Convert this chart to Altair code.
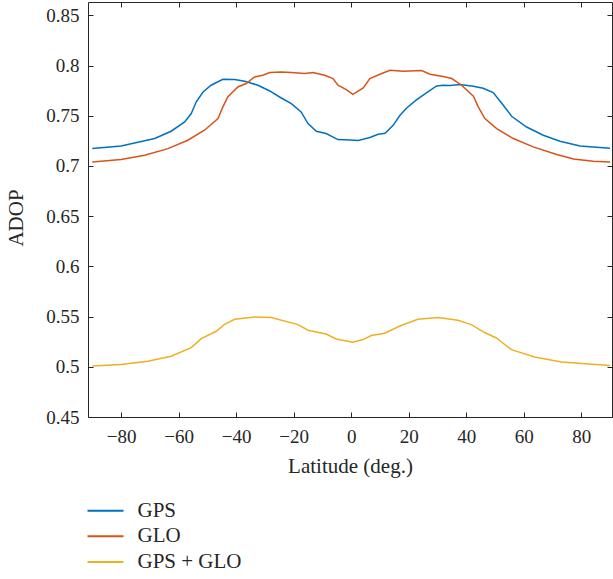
import altair as alt
import pandas as pd

series_names = ["GPS", "GLO", "GPS + GLO"]
series_colors = ["#0072BD", "#D95319", "#EDB120"]

gps_lat = [-90, -80, -68.3, -62.6, -57.9, -55.6, -53.9, -51.5, -48.7, -44.6, -40.5, -37, -32.4,
           -28.3, -24.3, -20.8, -17.4, -15, -12.1, -8.7, -4.6, -0.4, 2.5, 6.5, 9.4, 11.8, 14.6,
           17, 19.3, 22.8, 26.3, 29.7, 32, 34.4, 37.8, 42.5, 45.9, 49.4, 52.9, 55.8, 61, 66.8,
           72.6, 79.6, 90]
gps_val = [0.7173, 0.7199, 0.7273, 0.7346, 0.7438, 0.7522, 0.7637, 0.7737, 0.7804, 0.7864,
           0.7861, 0.7844, 0.7804, 0.7747, 0.7677, 0.7621, 0.7538, 0.7422, 0.7346, 0.7323,
           0.7263, 0.7259, 0.7253, 0.7283, 0.7316, 0.7326, 0.7405, 0.7505, 0.7578, 0.7661,
           0.7731, 0.7797, 0.7804, 0.7801, 0.7811, 0.7794, 0.7774, 0.7731, 0.7605, 0.7495,
           0.7388, 0.7306, 0.7246, 0.7199, 0.7176]

glo_lat = [-90, -80, -71.8, -63.7, -56.8, -51, -46.3, -44.6, -42.9, -39.4, -36.5, -33.6, -30.7,
           -28.3, -24.3, -20.8, -16.2, -13.3, -9.2, -6.3, -4.6, -1.7, 0.6, 4.2, 6.5, 10, 13.5,
           18.1, 24.5, 27.4, 32, 35, 38.4, 42.5, 44.2, 46.5, 50.6, 56.4, 63.3, 71.5, 77.3,
           84.2, 90]
glo_val = [0.7040, 0.7064, 0.7107, 0.7173, 0.7256, 0.7356, 0.7472, 0.7588, 0.7687, 0.7787,
           0.7821, 0.7886, 0.7904, 0.7930, 0.7937, 0.7930, 0.7920, 0.7930, 0.7904, 0.7871,
           0.7804, 0.7761, 0.7714, 0.7777, 0.7871, 0.7913, 0.7953, 0.7944, 0.7951, 0.7914,
           0.7891, 0.7871, 0.7804, 0.7695, 0.7588, 0.7472, 0.7373, 0.7273, 0.7190, 0.7114,
           0.7070, 0.7047, 0.7040]

both_lat = [-90, -80, -70.7, -62.6, -55.6, -52.1, -46.9, -44, -40.5, -33.6, -27.8, -18.5, -15,
            -8.7, -5.2, 0.6, 4.1, 7, 11.7, 16.9, 23.2, 30.2, 37.1, 41.8, 46.4, 50.5, 55.7,
            63.8, 73.1, 90]
both_val = [0.5008, 0.5022, 0.5055, 0.5105, 0.5191, 0.5281, 0.5354, 0.5423, 0.5473, 0.5496,
            0.5490, 0.5420, 0.5364, 0.5327, 0.5277, 0.5244, 0.5271, 0.5311, 0.5334, 0.5406,
            0.5473, 0.5490, 0.5463, 0.5420, 0.5341, 0.5287, 0.5171, 0.5098, 0.5048, 0.5012]

x_ticks = [-80, -60, -40, -20, 0, 20, 40, 60, 80]
y_ticks = [0.45, 0.5, 0.55, 0.6, 0.65, 0.7, 0.75, 0.8, 0.85]

rows = []
for name, lats, vals in [("GPS", gps_lat, gps_val), ("GLO", glo_lat, glo_val),
                         ("GPS + GLO", both_lat, both_val)]:
    for a, v in zip(lats, vals):
        rows.append({"lat": a, "adop": v, "series": name})
df = pd.DataFrame(rows)

W, H = 524, 415
FONT = "Liberation Serif"
INK = "#262626"

xscale = alt.Scale(domain=[-91.5, 90.7], nice=False, zero=False)
yscale = alt.Scale(domain=[0.45, 0.8633], nice=False, zero=False)

base = alt.Chart(df)

lines = base.mark_line(strokeWidth=1.5, clip=True).encode(
    x=alt.X("lat:Q", scale=xscale, axis=alt.Axis(
        orient="bottom", values=x_ticks, format="d", title="Latitude (deg.)",
        ticks=False, tickSize=0, labelPadding=25, labelBaseline="alphabetic",
        labelFont=FONT, labelFontSize=19, labelColor=INK,
        titleFont=FONT, titleFontSize=21, titleFontWeight="normal", titleColor=INK,
        titleY=55, titleBaseline="alphabetic",
        domain=True, domainColor=INK, domainWidth=1, grid=False)),
    y=alt.Y("adop:Q", scale=yscale, axis=alt.Axis(
        orient="left", values=y_ticks, format="~r", title="ADOP",
        ticks=False, tickSize=0, labelPadding=9, labelBaseline="middle",
        labelFont=FONT, labelFontSize=19, labelColor=INK,
        titleFont=FONT, titleFontSize=21, titleFontWeight="normal", titleColor=INK,
        titleX=-71.5, titleY=215.5, titleBaseline="middle",
        domain=True, domainColor=INK, domainWidth=1, grid=False)),
    color=alt.Color("series:N", sort=series_names,
                    scale=alt.Scale(domain=series_names, range=series_colors),
                    legend=alt.Legend(
                        title=None, orient="none", legendX=6.5, legendY=497.7,
                        direction="vertical", padding=0,
                        symbolType="M-1.8,0L1.8,0", symbolSize=400, symbolStrokeWidth=2,
                        rowPadding=4.6, labelOffset=21,
                        labelFont=FONT, labelFontSize=21, labelColor=INK)),
)

tick_style = dict(labels=False, title=None, ticks=True, tickSize=5, tickColor=INK,
                  tickWidth=1, grid=False, domainColor=INK, domainWidth=1)

ticks_in_a = base.mark_point(opacity=0).encode(
    x=alt.X("lat:Q", scale=xscale, axis=alt.Axis(orient="top", offset=-H, values=x_ticks,
                                                   domain=False, **tick_style)),
    y=alt.Y("adop:Q", scale=yscale, axis=alt.Axis(orient="right", offset=-W, values=y_ticks,
                                                    domain=False, **tick_style)),
)

ticks_in_b = base.mark_point(opacity=0).encode(
    x=alt.X("lat:Q", scale=xscale, axis=alt.Axis(orient="bottom", offset=-H, values=x_ticks,
                                                   domain=True, **tick_style)),
    y=alt.Y("adop:Q", scale=yscale, axis=alt.Axis(orient="left", offset=-W, values=y_ticks,
                                                    domain=True, **tick_style)),
)

chart = alt.layer(lines, ticks_in_a, ticks_in_b).resolve_axis(
    x="independent", y="independent"
).properties(
    width=W, height=H,
    autosize=alt.AutoSizeParams(type="none"),
    padding={"left": 88, "top": 2, "right": 1, "bottom": 162},
    background="white",
).configure_view(strokeWidth=0).configure_axis(labelFont=FONT, titleFont=FONT)

chart.save("out.html", embed_options={"renderer": "svg", "actions": False})
